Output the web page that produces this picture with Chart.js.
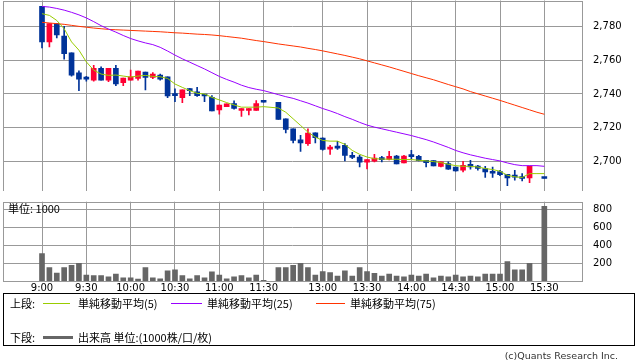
<!DOCTYPE html>
<html><head><meta charset="utf-8">
<script src="https://cdn.jsdelivr.net/npm/chart.js@4"></script>
<style>
html,body{margin:0;padding:0;background:#fff;}
body{width:638px;height:362px;overflow:hidden;position:relative;font-family:"Noto Sans CJK JP",sans-serif;color:#000;}
canvas{position:absolute;left:0;}
#c1{top:0;}
#c2{top:195px;}
.t{position:absolute;font-size:11px;line-height:14px;white-space:nowrap;}
.ln{position:absolute;height:1px;}
#box{position:absolute;left:3px;top:293px;width:632px;height:53px;border:1px solid #000;box-sizing:border-box;}
#unit{position:absolute;left:8px;top:201px;font-size:11px;line-height:14px;}
#copy{position:absolute;right:20px;top:350px;font-family:"DejaVu Sans",sans-serif;font-size:9.5px;line-height:12px;color:#333;}
</style></head>
<body>
<canvas id="c1" width="638" height="191"></canvas>
<canvas id="c2" width="638" height="100"></canvas>
<div id="unit">単位: 1000</div>
<div id="box"></div>
<div class="t" style="left:10px;top:296px">上段:</div>
<div class="ln" style="left:43px;top:303px;width:27px;background:#99cc00"></div>
<div class="t" style="left:78px;top:296px">単純移動平均(5)</div>
<div class="ln" style="left:171px;top:303px;width:31px;background:#9900ff"></div>
<div class="t" style="left:207px;top:296px">単純移動平均(25)</div>
<div class="ln" style="left:316px;top:303px;width:29px;background:#ff3300"></div>
<div class="t" style="left:350px;top:296px">単純移動平均(75)</div>
<div class="t" style="left:10px;top:330px">下段:</div>
<div class="ln" style="left:43px;top:336px;width:30px;height:3px;background:#666"></div>
<div class="t" style="left:78px;top:330px">出来高 単位:(1000株/口/枚)</div>
<div id="copy">(c)Quants Research Inc.</div>
<script>
const times = ['9:00','9:05','9:10','9:15','9:20','9:25','9:30','9:35','9:40','9:45','9:50','9:55',
 '10:00','10:05','10:10','10:15','10:20','10:25','10:30','10:35','10:40','10:45','10:50','10:55',
 '11:00','11:05','11:10','11:15','11:20','11:25','11:30','',
 '12:30','12:35','12:40','12:45','12:50','12:55',
 '13:00','13:05','13:10','13:15','13:20','13:25','13:30','13:35','13:40','13:45','13:50','13:55',
 '14:00','14:05','14:10','14:15','14:20','14:25','14:30','14:35','14:40','14:45','14:50','14:55',
 '15:00','15:05','15:10','15:15','15:20','15:25','15:30'];
const tickLabels = ['9:00','9:30','10:00','10:30','11:00','11:30','13:00','13:30','14:00','14:30','15:00','15:30'];
const priceTicks = [2700,2720,2740,2760,2780];
const volumeTicks = [200,400,600,800];

const open = [2791.8,2770.8,2781.6,2774.3,2764.3,2752.5,2748.8,2748.2,2755.1,2748.2,2755.1,2746.7,2748.2,2749.2,2752.9,2749.8,2751.2,2750.2,2739.0,2737.8,2742.2,2741.2,2739.0,2738.0,2730.6,2732.5,2734.3,2730.2,2730.2,2730.2,2735.1,null,
 2735.1,2725.3,2719.4,2712.9,2710.6,2717.0,2713.9,2707.4,2708.2,2709.6,2703.7,2702.7,2699.6,2700.2,2701.4,2701.3,2703.3,2699.2,2703.0,2703.1,2700.8,2700.6,2697.2,2698.8,2696.8,2694.9,2698.4,2697.4,2695.9,2694.1,2694.1,2692.5,2691.0,2691.1,2690.4,null,2690.0];
const high = [2791.8,2781.6,2781.6,2780.0,2764.3,2753.7,2750.4,2756.9,2756.1,2755.1,2756.9,2749.4,2754.1,2753.5,2752.9,2752.7,2751.8,2750.2,2743.1,2742.4,2743.3,2743.9,2739.2,2739.0,2733.5,2734.1,2735.9,2731.4,2731.4,2736.1,2735.1,null,
 2735.1,2725.3,2719.4,2715.5,2719.4,2717.0,2714.0,2709.6,2712.0,2710.6,2705.5,2703.7,2701.2,2704.3,2703.1,2706.0,2703.7,2703.7,2706.6,2703.7,2700.8,2700.6,2699.8,2699.8,2696.8,2700.2,2700.8,2697.8,2697.2,2696.8,2694.9,2692.5,2694.9,2692.9,2697.4,null,2690.0];
const low = [2767.3,2767.8,2773.1,2760.6,2750.6,2742.0,2747.6,2747.6,2748.2,2747.3,2744.9,2744.9,2748.2,2748.2,2742.4,2749.0,2748.2,2737.8,2735.5,2734.9,2739.0,2738.6,2735.5,2730.0,2728.0,2732.5,2731.0,2726.7,2727.6,2730.2,2735.1,null,
 2724.9,2717.0,2711.0,2706.0,2709.6,2711.0,2706.8,2704.3,2707.2,2700.4,2701.8,2696.8,2695.7,2699.8,2699.8,2701.0,2698.6,2699.2,2701.7,2700.4,2696.8,2697.4,2696.8,2695.3,2694.3,2693.9,2695.5,2694.9,2690.6,2690.6,2691.6,2685.7,2689.0,2688.6,2687.5,null,2690.0];
const close = [2770.8,2781.6,2774.9,2763.9,2751.2,2748.8,2748.8,2755.1,2748.2,2755.1,2745.9,2749.4,2750.2,2753.5,2749.8,2751.8,2748.8,2738.8,2739.0,2742.4,2742.0,2739.0,2738.8,2730.0,2733.5,2734.1,2731.4,2731.4,2731.4,2734.3,2735.1,null,
 2724.9,2719.0,2712.5,2711.0,2716.8,2714.1,2707.2,2708.2,2708.0,2703.7,2702.5,2699.6,2701.2,2702.1,2701.2,2703.1,2698.6,2703.3,2702.9,2700.6,2699.4,2697.4,2699.8,2695.5,2694.5,2697.8,2696.8,2695.9,2693.9,2693.1,2692.3,2690.4,2690.8,2690.0,2697.4,null,2690.0];
const volume = [306,150,89,150,173,196,66,59,59,47,78,36,36,21,150,36,25,112,124,59,25,59,36,101,66,25,47,59,36,66,8,null,
 150,150,173,196,150,66,105,93,55,112,55,150,105,86,55,78,55,47,66,55,78,36,55,47,66,47,55,47,78,78,78,215,124,124,196,null,830];
const sma5 = [2787.5,2786.5,2783.5,2778.6,2770.8,2765.9,2759.0,2754.1,2751.8,2751.0,2751.2,2750.6,2750.0,2750.6,2751.0,2750.4,2750.2,2749.2,2745.9,2743.9,2742.0,2740.4,2740.0,2738.0,2736.5,2734.9,2733.5,2732.2,2732.2,2732.2,2732.5,null,
 2731.7,2729.2,2725.3,2721.4,2717.4,2714.5,2712.5,2712.1,2712.1,2710.2,2706.6,2704.3,2702.7,2701.7,2701.5,2701.4,2701.4,2701.2,2701.2,2700.8,2700.4,2700.0,2699.4,2698.4,2697.6,2697.2,2697.2,2696.8,2695.9,2695.3,2694.3,2691.9,2691.0,2690.6,2692.9,2692.9,2692.9];
const sma25 = [2791.8,2791.4,2790.6,2789.6,2788.3,2786.8,2785.0,2782.8,2780.4,2778.4,2776.6,2774.6,2772.8,2771.4,2770.2,2769.2,2767.6,2765.4,2763.0,2760.8,2758.8,2756.8,2754.8,2752.6,2750.4,2748.6,2747.0,2745.2,2743.8,2742.8,2742.0,null,
 2739.6,2738.4,2737.4,2736.0,2734.6,2733.0,2731.4,2730.0,2728.4,2726.6,2725.0,2723.2,2721.6,2720.4,2719.4,2718.4,2717.4,2716.4,2715.4,2714.2,2713.0,2711.6,2710.0,2708.4,2706.6,2705.2,2704.0,2703.0,2702.0,2701.2,2700.4,2699.2,2698.2,2697.6,2697.6,2697.6,2697.2];
const sma75 = [2782.4,2782.0,2781.6,2781.2,2780.6,2780.0,2779.5,2779.0,2778.6,2778.2,2778.0,2777.8,2777.6,2777.4,2777.2,2777.0,2776.8,2776.5,2776.2,2776.0,2775.7,2775.4,2775.2,2774.9,2774.5,2774.0,2773.5,2773.0,2772.3,2771.6,2771.0,null,
 2769.6,2769.0,2768.4,2767.8,2767.0,2766.3,2765.5,2764.6,2763.7,2762.8,2761.8,2760.8,2759.6,2758.4,2757.2,2756.0,2754.7,2753.4,2752.1,2750.8,2749.6,2748.4,2747.0,2745.6,2744.3,2743.0,2741.4,2740.1,2738.8,2737.5,2736.2,2734.8,2733.4,2732.0,2730.6,2729.2,2728.0];

const UP = '#ff0033', DOWN = '#003399', GRID = '#999999';
const xTickPos = tickLabels.map(t => times.indexOf(t));
const XMIN = -5.28, XMAX = 73.1;

const idx = times.map((t,i)=>i);
const valid = idx.filter(i => open[i] !== null);
const candleColor = valid.map(i => close[i] > open[i] ? UP : DOWN);

const borderPlugin = {
  id:'border',
  afterDraw(chart){
    const a = chart.chartArea, ctx = chart.ctx;
    ctx.save();
    ctx.strokeStyle = GRID; ctx.lineWidth = 1;
    const l = Math.round(a.left)+0.5, t = Math.round(a.top)+0.5, r = Math.round(a.right)+0.5, b = Math.round(a.bottom)+0.5;
    ctx.strokeRect(l, t, r-l, b-t);
    ctx.restore();
  }
};

function noPad(s){ s.paddingTop = 0; s.paddingBottom = 0; s.paddingLeft = 0; s.paddingRight = 0; }

function xScale(showLabels, h){
  return {
    type:'linear', min:XMIN, max:XMAX, position:'bottom', offset:false,
    afterBuildTicks: s => { s.ticks = xTickPos.map(v => ({value:v})); },
    afterFit: s => { s.height = h; noPad(s); },
    ticks:{display:showLabels, autoSkip:false, maxRotation:0, padding:1, color:'#000',
      font:{family:'DejaVu Sans', size:10}, callback: v => times[v]},
    grid:{color:GRID, drawTicks:false, offset:false}, border:{display:false}
  };
}
function yScale(min, max, ticks){
  return {
    position:'right', min:min, max:max,
    afterBuildTicks: s => { s.ticks = ticks.map(v => ({value:v})); },
    afterFit: s => { s.width = 56; noPad(s); },
    ticks:{padding:11, color:'#000', font:{family:'DejaVu Sans', size:10},
      callback: v => v.toLocaleString('en-US')},
    grid:{color:GRID, drawTicks:false}, border:{display:false}
  };
}
function lineDs(data, color){
  return {type:'line', data: idx.filter(i=>data[i]!==null).map(i=>({x:i, y:data[i]})),
    borderColor:color, borderWidth:1, pointRadius:0, tension:0, spanGaps:true, order:0};
}

new Chart(document.getElementById('c1'), {
  type:'bar',
  data:{datasets:[
    lineDs(sma5,'#99cc00'),
    lineDs(sma25,'#9900ff'),
    lineDs(sma75,'#ff3300'),
    {data: valid.map(i=>({x:i, y:[open[i], close[i]]})), backgroundColor:candleColor,
      barThickness:5, minBarLength:2, grouped:false, borderWidth:0, order:1},
    {data: valid.map(i=>({x:i, y:[low[i], high[i]]})), backgroundColor:candleColor,
      barThickness:1, grouped:false, borderWidth:0, order:2}
  ]},
  options:{
    responsive:false, animation:false, devicePixelRatio:1,
    layout:{autoPadding:false, padding:{left:3, right:0, top:0.5, bottom:0.5}},
    plugins:{legend:{display:false}, tooltip:{enabled:false}},
    scales:{ x: xScale(false, 0), y: yScale(2682.9, 2795.3, priceTicks) }
  },
  plugins:[borderPlugin]
});

const vValid = idx.filter(i => volume[i] !== null);
new Chart(document.getElementById('c2'), {
  type:'bar',
  data:{datasets:[
    {data: vValid.map(i=>({x:i, y:volume[i]})), backgroundColor:'#666666',
      barThickness:5, grouped:false, borderWidth:0}
  ]},
  options:{
    responsive:false, animation:false, devicePixelRatio:1,
    layout:{autoPadding:false, padding:{left:3, right:0, top:6.7, bottom:0}},
    plugins:{legend:{display:false}, tooltip:{enabled:false}},
    scales:{ x: xScale(true, 14), y: yScale(0, 882, volumeTicks) }
  },
  plugins:[borderPlugin]
});
</script>
</body></html>
